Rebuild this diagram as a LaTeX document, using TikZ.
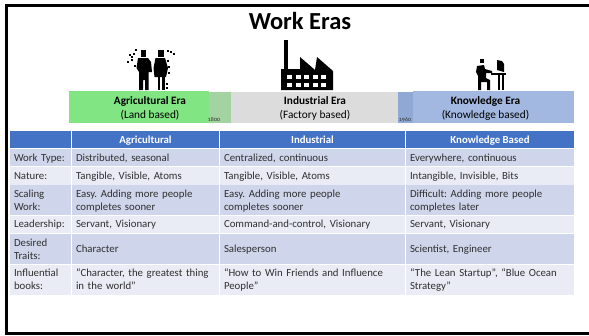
\documentclass[tikz,border=0pt]{standalone}
\usepackage{fontspec}
\setmainfont{Carlito}
\frenchspacing
\definecolor{hdr}{HTML}{4472C4}
\definecolor{bandA}{HTML}{CFD5EA}
\definecolor{bandB}{HTML}{E9EBF5}
\definecolor{agri}{HTML}{80E582}
\definecolor{agrimix}{HTML}{A3D3A0}
\definecolor{indus}{HTML}{DCDCDC}
\definecolor{indmix}{HTML}{8FA8D4}
\definecolor{know}{HTML}{A3B8E0}
\definecolor{ink}{HTML}{303030}
\tikzset{
  cell/.style 2 args={anchor=north west,inner ysep=0pt,inner xsep=4pt,outer sep=0pt,
    minimum width=#1 pt,minimum height=#2 pt,text width=#1 pt - 8pt,align=left,
    font=\fontsize{10.8}{13}\selectfont,text=ink,
    execute at begin node={\rule{0pt}{11.1pt}},execute at end node=\strut},
  headcell/.style 2 args={anchor=north west,inner sep=0pt,outer sep=0pt,fill=hdr,
    minimum width=#1 pt,minimum height=#2 pt,align=center,
    font=\fontsize{10.8}{13}\selectfont\bfseries,text=white,
    execute at begin node={\rule[-3.9pt]{0pt}{15pt}}},
  erabar/.style={anchor=north west,inner sep=0pt,outer sep=0pt},
  eratext/.style={align=center,inner sep=0pt,font=\fontsize{11.3}{14}\selectfont,text=black},
  yeartext/.style={inner sep=0pt,font=\fontsize{6}{7}\selectfont\addfontfeature{Numbers=OldStyle},text=ink},
  rulefr/.style={line width=3pt,black},
  icon/.style={fill=black,draw=none},
}
\begin{document}
\begin{tikzpicture}[x=1pt,y=-1pt]
\useasboundingbox (0,0) rectangle (589,335);
\fill[white] (0,0) rectangle (589,335);
% frame
\coordinate (frTL) at (6.5,5.5);
\coordinate (frTR) at (589,5.5);
\coordinate (frBL) at (6.5,333.5);
\coordinate (frBR) at (589,333.5);
\draw[rulefr] (frTR) -- (frTL) -- (frBL) -- (frBR);
% title
\node[inner sep=0pt,anchor=base,font=\fontsize{24.5}{28}\selectfont\bfseries] (title) at (300,29) {Work Eras};
% era bars
\node[erabar,fill=agri,minimum width=140pt,minimum height=32pt] (barA) at (69,91) {};
\node[erabar,fill=agrimix,minimum width=22pt,minimum height=31pt] (mixA) at (209,92) {};
\node[erabar,fill=indus,minimum width=167pt,minimum height=31pt] (barI) at (231,92) {};
\node[erabar,fill=indmix,minimum width=15pt,minimum height=31pt] (mixB) at (398,92) {};
\node[erabar,fill=know,minimum width=161pt,minimum height=32pt] (barK) at (413,91) {};
\node[eratext] (lblA) at (150,108.2) {\textbf{Agricultural Era}\\(Land based)};
\node[eratext] (lblI) at (315,108.2) {\textbf{Industrial Era}\\(Factory based)};
\node[eratext] (lblK) at (485.5,108.2) {\textbf{Knowledge Era}\\(Knowledge based)};
\node[yeartext] (y1800) at (214,120) {1800};
\node[yeartext] (y1960) at (405,120) {1960};
% table
\node[headcell={61}{17}] (h0) at (10,131) {};
\node[headcell={147}{17}] (h1) at (72,131) {Agricultural};
\node[headcell={185}{17}] (h2) at (220,131) {Industrial};
\node[headcell={168}{17}] (h3) at (406,131) {Knowledge Based};
% rows
\node[cell={61}{17},fill=bandA] (a0) at (10,149) {Work Type:};
\node[cell={147}{17},fill=bandA] (a1) at (72,149) {Distributed, seasonal};
\node[cell={185}{17},fill=bandA] (a2) at (220,149) {Centralized, continuous};
\node[cell={168}{17},fill=bandA] (a3) at (406,149) {Everywhere, continuous};
\node[cell={61}{17.5},fill=bandB] (b0) at (10,167) {Nature:};
\node[cell={147}{17.5},fill=bandB] (b1) at (72,167) {Tangible, Visible, Atoms};
\node[cell={185}{17.5},fill=bandB] (b2) at (220,167) {Tangible, Visible, Atoms};
\node[cell={168}{17.5},fill=bandB] (b3) at (406,167) {Intangible, Invisible, Bits};
\node[cell={61}{30},fill=bandA] (c0) at (10,185) {Scaling\\Work:};
\node[cell={147}{30},fill=bandA] (c1) at (72,185) {Easy. Adding more people\\completes sooner};
\node[cell={185}{30},fill=bandA] (c2) at (220,185) {Easy. Adding more people\\completes sooner};
\node[cell={168}{30},fill=bandA] (c3) at (406,185) {Difficult: Adding more people\\completes later};
\node[cell={61}{17.5},fill=bandB] (d0) at (10,215.6) {Leadership:};
\node[cell={147}{17.5},fill=bandB] (d1) at (72,215.6) {Servant, Visionary};
\node[cell={185}{17.5},fill=bandB] (d2) at (220,215.6) {Command-and-control, Visionary};
\node[cell={168}{17.5},fill=bandB] (d3) at (406,215.6) {Servant, Visionary};
\node[cell={61}{30},fill=bandA] (e0) at (10,234) {Desired\\Traits:};
\node[cell={147}{30},fill=bandA] (e1) at (72,234) {Character};
\node[cell={185}{30},fill=bandA] (e2) at (220,234) {Salesperson};
\node[cell={168}{30},fill=bandA] (e3) at (406,234) {Scientist, Engineer};
\node[cell={61}{30.5},fill=bandB] (f0) at (10,264.6) {Influential\\books:};
\node[cell={147}{30.5},fill=bandB] (f1) at (72,264.6) {“Character, the greatest thing\\in the world”};
\node[cell={185}{30.5},fill=bandB] (f2) at (220,264.6) {“How to Win Friends and Influence\\People”};
\node[cell={168}{30.5},fill=bandB] (f3) at (406,264.6) {“The Lean Startup”, “Blue Ocean\\Strategy”};
% farmer icon
\fill[icon] (141,50) rectangle (146,57);
\fill[icon] (138,58) -- (148,58) -- (151,62) -- (152,72) -- (148.5,72) -- (148.5,90) -- (145,90) -- (145,80) -- (143,80) -- (143,90) -- (139,90) -- (139,72) -- (136.5,68) -- cycle;
\fill[icon] (157.5,50) rectangle (163.5,57);
\fill[icon] (155.5,58) -- (165,58) -- (168,68) -- (166,77) -- (154.5,77) -- (153.5,68) -- cycle;
\fill[icon] (157.5,77) rectangle (160,90);
\fill[icon] (162,77) rectangle (164.5,90);
\foreach \px/\py in {131/56,133/53,129/54,131/59,127/61,135/49,134/65,167/50,170/51,173/53,167/60,168/66,168/72,166/83,166/87}
  \fill[icon] (\px,\py) rectangle ++(2,2);
% factory icon
\fill[icon] (284,40) rectangle (288,70);
\fill[icon] (281,69) -- (300,69) -- (300,57) -- (315,70) -- (317,57) -- (333,71) -- (333,90) -- (281,90) -- cycle;
\foreach \wx in {287,295.5,304,312.5,321}{
  \fill[white] (\wx,75) rectangle ++(5,4);
  \fill[white] (\wx,83) rectangle ++(5,4);
}
% worker icon
\fill[icon] (480,58.5) rectangle (484,63);
\fill[icon] (477,66) -- (484,65) -- (485,69) -- (492,71) -- (492,73) -- (486,73) -- (486,78) -- (490,80) -- (490,90) -- (487,90) -- (487,82) -- (481,82) -- (481,90) -- (478,90) -- (478,76) -- (476,72) -- cycle;
\fill[icon] (497,60) -- (502,61) -- (504,64) -- (504,72) -- (497,70) -- cycle;
\fill[icon] (491,73) rectangle (506,75);
\fill[icon] (498,75) rectangle (500,90);
\fill[icon] (502,75) rectangle (503.5,90);
\end{tikzpicture}
\end{document}
